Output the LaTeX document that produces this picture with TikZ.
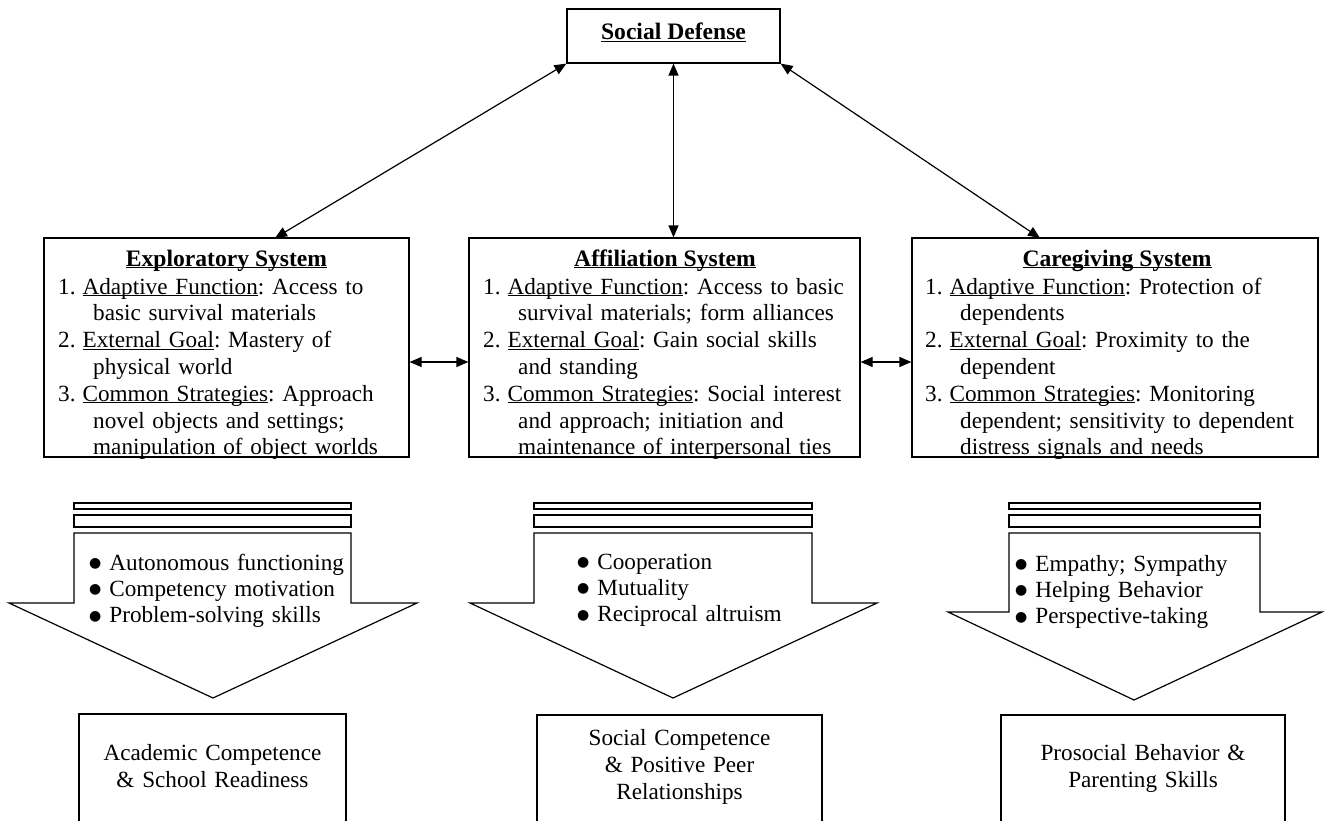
\documentclass[tikz,border=0pt]{standalone}
\usepackage{fontspec}
\setmainfont{Liberation Serif}
\newfontfamily\djv{DejaVu Sans}
\usetikzlibrary{arrows.meta,calc}
\frenchspacing
\begin{document}
\begin{tikzpicture}[x=1pt,y=-1pt,
  box/.style={draw, line width=1.2pt, rectangle, inner sep=0pt},
  txt/.style={font=\fontsize{23.2}{26.8}\selectfont, inner sep=0pt},
  body/.style={txt, anchor=base west, text width=400pt, align=left},
  ttl/.style={txt, anchor=base, font=\fontsize{23.6}{26.8}\selectfont\bfseries},
  outtxt/.style={txt, anchor=base, text width=300pt, align=center, font=\fontsize{23.2}{27}\selectfont},
  bul/.style={txt, anchor=base west, text width=300pt, align=left, font=\fontsize{23.2}{26.3}\selectfont},
  dbl/.style={line width=1.2pt, {Triangle[length=12pt,width=10pt]}-{Triangle[length=12pt,width=10pt]}},
  bigarrow/.style={draw, line width=1.2pt, line join=miter},
  bar/.style={draw, line width=1.2pt}
]
\useasboundingbox (0,0) rectangle (1327,821);
\clip (0,0) rectangle (1327,821);
\newcommand{\bb}{\raisebox{2.5pt}{\djv\fontsize{14}{14}\selectfont ●}\hspace{8pt}}
\newcommand{\ind}{\hspace*{35pt}}
\newcommand{\ul}[1]{\underline{\smash{#1}}}
\newcommand{\num}[1]{#1.\hspace{7pt}}

% top box
\node[box, minimum width=213pt, minimum height=54pt] (sd) at (673.5,36) {};
\node[ttl] (sdt) at (673.5,40) {\ul{Social Defense}};

% system boxes
\node[box, minimum width=365pt, minimum height=219pt] (expl) at (226.5,347.5) {};
\node[box, minimum width=391pt, minimum height=219pt] (aff) at (664.5,347.5) {};
\node[box, minimum width=406pt, minimum height=219pt] (care) at (1115,347.5) {};

\node[ttl] (explt) at (226.5,266) {\ul{Exploratory System}};
\node[ttl] (afft) at (665,266) {\ul{Affiliation System}};
\node[ttl] (caret) at (1117,266) {\ul{Caregiving System}};

\node[body] (explb) at (58,294) {\num{1}\ul{Adaptive Function}: Access to\\
\ind basic survival materials\\
\num{2}\ul{External Goal}: Mastery of\\
\ind physical world\\
\num{3}\ul{Common Strategies}: Approach\\
\ind novel objects and settings;\\
\ind manipulation of object worlds};

\node[body] (affb) at (483,294) {\num{1}\ul{Adaptive Function}: Access to basic\\
\ind survival materials; form alliances\\
\num{2}\ul{External Goal}: Gain social skills\\
\ind and standing\\
\num{3}\ul{Common Strategies}: Social interest\\
\ind and approach; initiation and\\
\ind maintenance of interpersonal ties};

\node[body] (careb) at (925,294) {\num{1}\ul{Adaptive Function}: Protection of\\
\ind dependents\\
\num{2}\ul{External Goal}: Proximity to the\\
\ind dependent\\
\num{3}\ul{Common Strategies}: Monitoring\\
\ind dependent; sensitivity to dependent\\
\ind distress signals and needs};

% connectors
\coordinate (et) at (275,238);
\coordinate (ct) at (1040,238);
\draw[dbl] (sd.south west) -- (et);
\draw[dbl] (sd.south) -- (sd.south |- aff.north);
\draw[dbl] (sd.south east) -- (ct);
\coordinate (h1) at ($(expl.east)+(0,14.5)$);
\coordinate (h2) at ($(aff.east)+(0,14.5)$);
\draw[dbl] (h1) -- (h1 -| aff.west);
\draw[dbl] (h2) -- (h2 -| care.west);

% big arrows
% left
\draw[bar] (74,503) rectangle (351,509);
\draw[bar] (74,515) rectangle (351,527);
\draw[bigarrow] (74,533) -- (351,533) -- (351,603) -- (417,603) -- (213,698) -- (9,603) -- (74,603) -- cycle;
% middle
\draw[bar] (534,503) rectangle (812,509);
\draw[bar] (534,515) rectangle (812,527);
\draw[bigarrow] (534,533) -- (812,533) -- (812,603) -- (877,603) -- (673,698) -- (470,603) -- (534,603) -- cycle;
% right
\draw[bar] (1009,503) rectangle (1260,509);
\draw[bar] (1009,515) rectangle (1260,527);
\draw[bigarrow] (1009,533) -- (1260,533) -- (1260,612) -- (1322,612) -- (1134,700) -- (948,612) -- (1009,612) -- cycle;

\node[bul] (b1) at (89,570) {\bb Autonomous functioning\\ \bb Competency motivation\\ \bb Problem-solving skills};
\node[bul] (b2) at (577,569) {\bb Cooperation\\ \bb Mutuality\\ \bb Reciprocal altruism};
\node[bul] (b3) at (1015,571) {\bb Empathy; Sympathy\\ \bb Helping Behavior\\ \bb Perspective-taking};

% outcome boxes
\node[box, minimum width=267pt, minimum height=140pt] (o1) at (212.5,784) {};
\node[box, minimum width=285pt, minimum height=140pt] (o2) at (679.5,785) {};
\node[box, minimum width=284pt, minimum height=140pt] (o3) at (1143,785) {};

\node[outtxt] (o1t) at (212.5,760) {Academic Competence\\ \& School Readiness};
\node[outtxt] (o2t) at (679.5,745) {Social Competence\\ \& Positive Peer\\ Relationships};
\node[outtxt] (o3t) at (1143,760) {Prosocial Behavior \&\\ Parenting Skills};
\end{tikzpicture}
\end{document}
